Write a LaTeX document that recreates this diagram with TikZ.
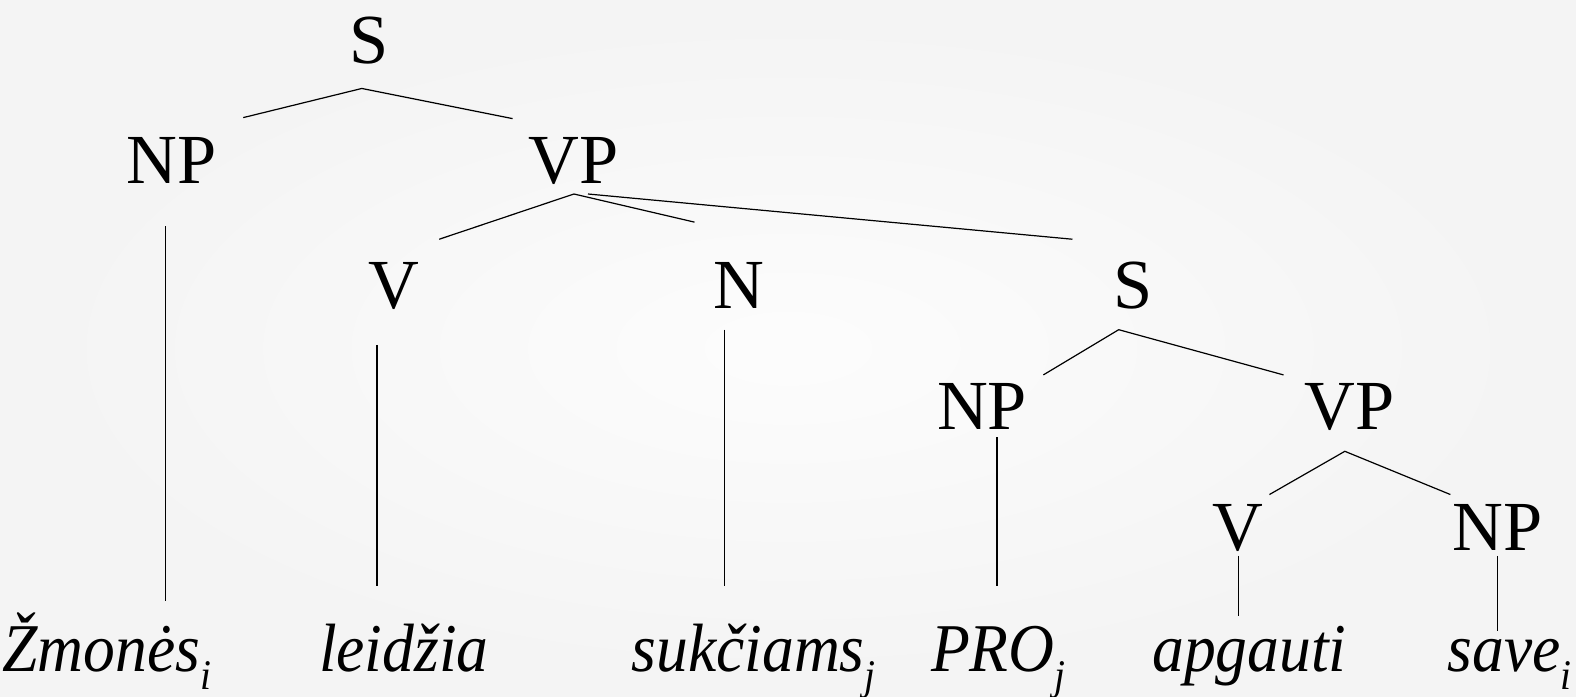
\documentclass[tikz,border=0pt]{standalone}
\usepackage{fontspec}
\setmainfont{Liberation Serif}
\newfontfamily\wordfont{Liberation Serif}[FakeStretch=0.93]
\usepackage{tikz}
\usetikzlibrary{positioning,calc}

\newcommand{\ix}[1]{\raisebox{-9pt}{\fontsize{21}{21}\selectfont #1}}

\begin{document}
\begin{tikzpicture}[
    x=0.5pt, y=-0.5pt,
    cat/.style={anchor=base, inner sep=0pt, font=\fontsize{35}{35}\selectfont},
    word/.style={anchor=base west, inner sep=0pt, font=\wordfont\itshape\fontsize{34}{34}\selectfont},
    branch/.style={line width=0.6pt, black}
]
    % Background
    \shade[inner color=gray!2, outer color=gray!9] (0,0) rectangle (1568,693);
    \useasboundingbox (0,0) rectangle (1568,693);

    % Categories
    \node[cat] (s1) at (367,63) {S};
    \node[cat] (np1) at (171,183) {NP};
    \node[cat] (vp1) at (571,183) {VP};
    \node[cat] (v1) at (392,307) {V};
    \node[cat] (n1) at (735,307) {N};
    \node[cat] (s2) at (1127,307) {S};
    \node[cat] (np2) at (977,427) {NP};
    \node[cat] (vp2) at (1343,427) {VP};
    \node[cat] (v2) at (1232,548) {V};
    \node[cat] (np3) at (1490,548) {NP};

    % Words
    \node[word] (w1) at (2,668) {Žmonės\ix{i}};
    \node[word] (w2) at (317,668) {leidžia};
    \node[word] (w3) at (628,668) {sukčiams\ix{j}};
    \node[word] (w4) at (926,668) {PRO\ix{j}};
    \node[word] (w5) at (1146,668) {apgauti};
    \node[word] (w6) at (1440,668) {save\ix{i}};

    % Branches
    \draw[branch] ([shift={(71,-66)}]np1.base) -- ([shift={(-7,25)}]s1.base) -- ([shift={(-61,-65)}]vp1.base);
    \draw[branch] ([shift={(-6,42)}]np1.base) -- ([shift={(163,-70)}]w1.base west);
    \draw[branch] ([shift={(45,-69)}]v1.base) -- ([shift={(0,10)}]vp1.base) -- ([shift={(-44,-86)}]n1.base);
    \draw[branch] ([shift={(14,10)}]vp1.base) -- ([shift={(-60,-69)}]s2.base);
    \draw[branch] ([shift={(-17,36)}]v1.base) -- ([shift={(58,-85)}]w2.base west);
    \draw[branch] ([shift={(-14,21)}]n1.base) -- ([shift={(93,-85)}]w3.base west);
    \draw[branch] ([shift={(61,-54)}]np2.base) -- ([shift={(-14,21)}]s2.base) -- ([shift={(-66,-54)}]vp2.base);
    \draw[branch] ([shift={(15,8)}]np2.base) -- ([shift={(66,-85)}]w4.base west);
    \draw[branch] ([shift={(31,-56)}]v2.base) -- ([shift={(-5,22)}]vp2.base) -- ([shift={(-47,-56)}]np3.base);
    \draw[branch] ([shift={(0,5)}]v2.base) -- ([shift={(86,-55)}]w5.base west);
    \draw[branch] ([shift={(0,5)}]np3.base) -- ([shift={(50,-40)}]w6.base west);
\end{tikzpicture}
\end{document}
